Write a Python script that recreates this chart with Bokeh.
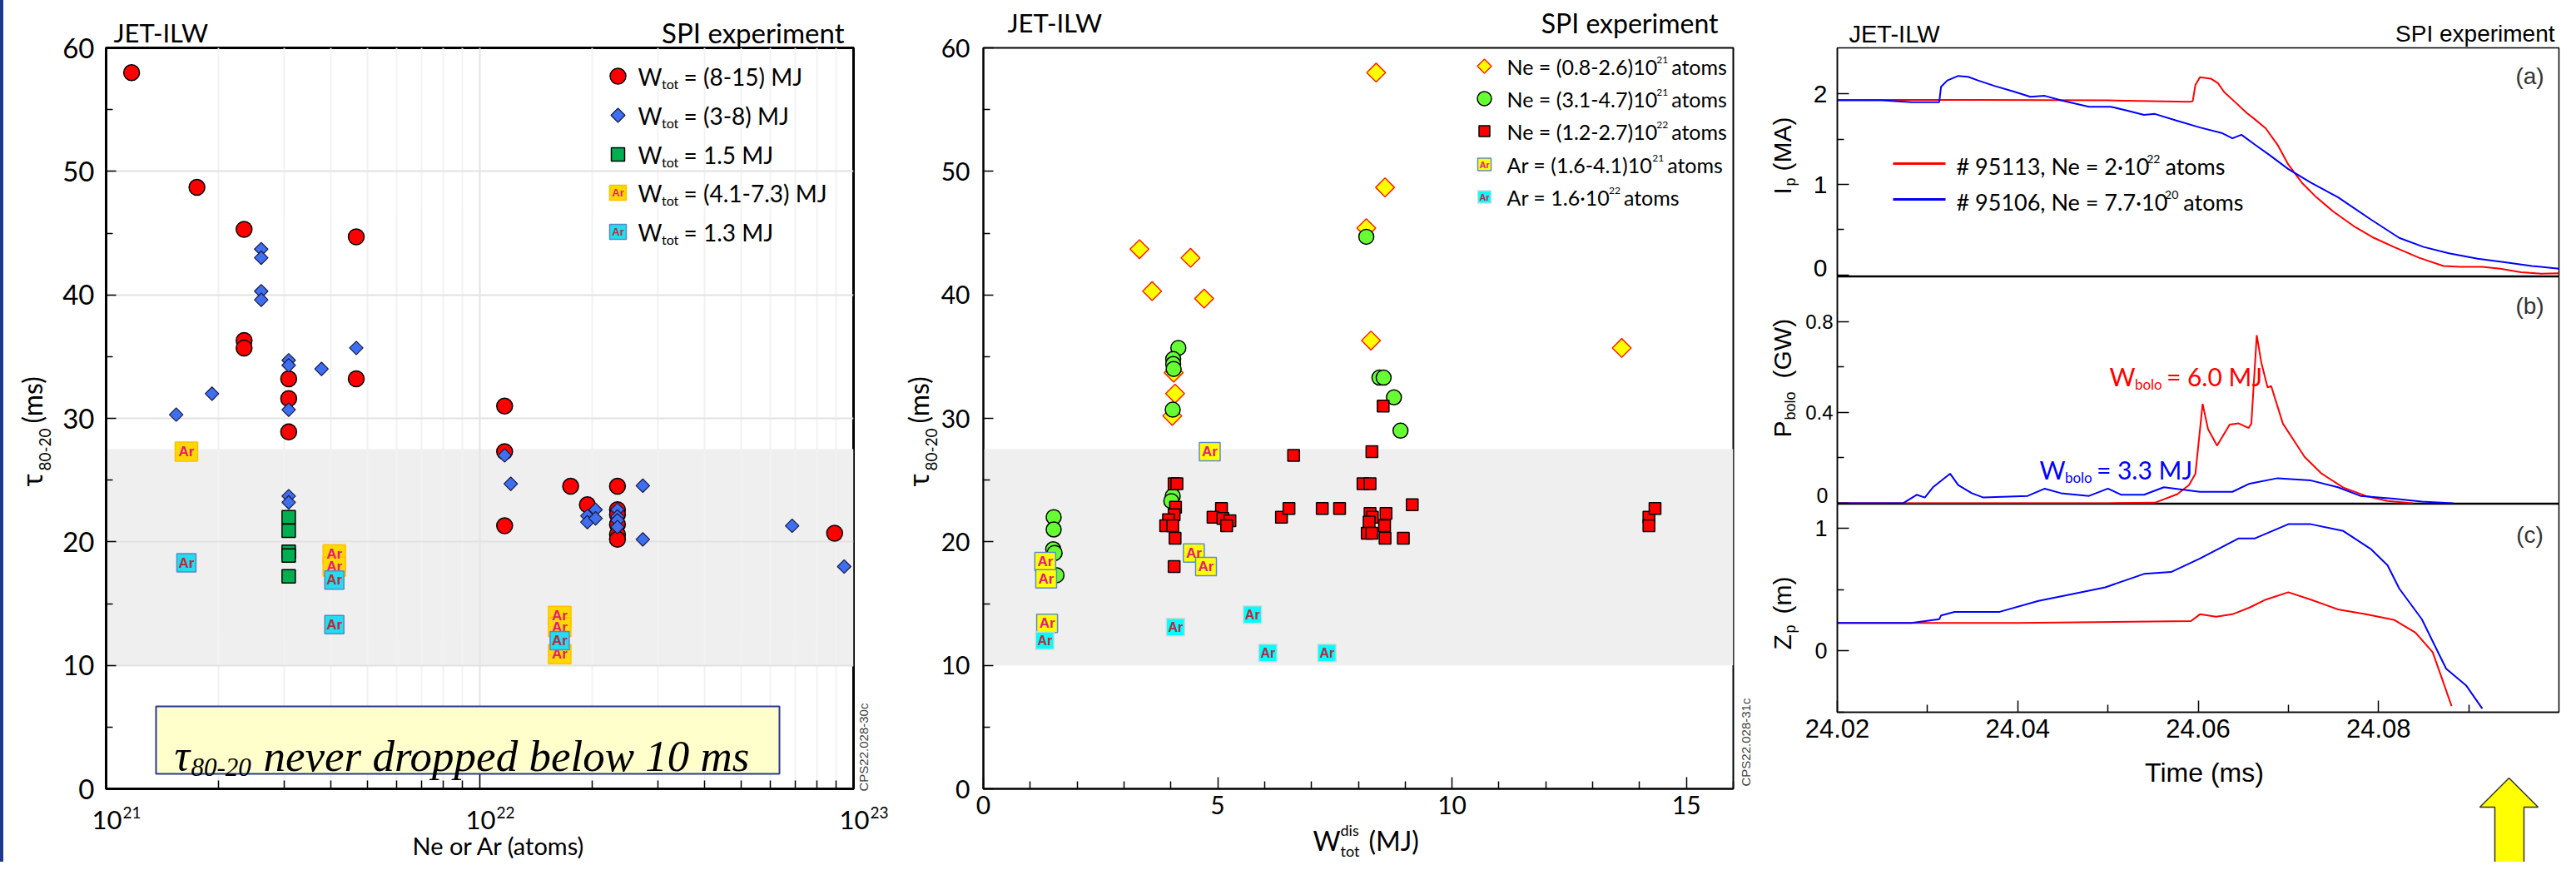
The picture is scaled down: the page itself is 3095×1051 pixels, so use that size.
import math
from bokeh.plotting import figure
from bokeh.models import (Label, BoxAnnotation, FixedTicker, Spacer, Range1d,
                          NumeralTickFormatter, GridBox)
from bokeh.layouts import row, column
from bokeh.embed import file_html
from bokeh.resources import INLINE
from bokeh.core.properties import value

# ======================= DATA =======================
# Panel 1 : tau_80-20 (ms) versus injected Ne or Ar (atoms)
p1_big_x = [1.17e21, 1.75e21, 2.34e21, 2.34e21, 2.34e21, 3.08e21, 3.08e21, 3.08e21,
            4.67e21, 4.67e21, 1.165e22, 1.165e22, 1.165e22, 1.75e22, 1.94e22,
            2.335e22, 2.335e22, 2.335e22, 2.335e22, 2.335e22, 2.335e22, 8.9e22]
p1_big_y = [58.0, 48.7, 45.3, 36.3, 35.7, 33.2, 31.6, 28.9,
            44.7, 33.2, 31.0, 27.3, 21.3, 24.5, 23.0,
            24.5, 22.6, 22.2, 21.4, 20.6, 20.2, 20.7]
p1_mid_x = [1.54e21, 1.92e21, 2.60e21, 2.60e21, 2.60e21, 2.60e21, 3.08e21, 3.08e21, 3.08e21,
            3.08e21, 3.08e21, 3.77e21, 4.67e21, 1.165e22, 1.21e22, 1.94e22, 1.94e22, 2.04e22,
            2.04e22, 2.335e22, 2.335e22, 2.335e22, 2.335e22, 2.73e22, 2.73e22, 6.85e22, 9.44e22]
p1_mid_y = [30.3, 32.0, 43.7, 43.0, 40.3, 39.6, 34.7, 34.3, 30.7,
            23.7, 23.2, 34.0, 35.7, 27.0, 24.7, 22.1, 21.6, 22.6,
            21.9, 22.6, 22.05, 21.75, 21.2, 24.55, 20.2, 21.3, 18.0]
p1_low_x = [3.08e21, 3.08e21, 3.08e21, 3.08e21, 3.08e21]
p1_low_y = [22.0, 20.9, 19.2, 18.9, 17.2]
p1_arhi_x = [1.64e21, 4.08e21, 4.08e21, 1.636e22, 1.636e22, 1.636e22]
p1_arhi_y = [27.3, 19.0, 18.0, 14.0, 13.1, 10.9]
p1_arlo_x = [1.64e21, 4.08e21, 4.08e21, 1.636e22]
p1_arlo_y = [18.3, 16.9, 13.3, 12.0]
p1_xtick_exp = ["21", "22", "23"]
p1_legend = ["= (8-15) MJ", "= (3-8) MJ", "= 1.5 MJ", "= (4.1-7.3) MJ", "= 1.3 MJ"]

# Panel 2 : tau_80-20 (ms) versus W_tot^dis (MJ)
p2_ne1_x = [3.33, 3.60, 4.42, 4.71, 4.06, 4.09, 4.03, 8.17, 8.38, 8.57, 8.27, 13.62]
p2_ne1_y = [43.7, 40.3, 43.0, 39.7, 33.7, 32.0, 30.2, 45.4, 58.0, 48.7, 36.3, 35.7]
p2_ne2_x = [1.50, 1.50, 1.49, 1.52, 1.56, 4.16, 4.05, 4.05, 4.06, 4.04, 4.04, 4.01,
            8.17, 8.45, 8.54, 8.76, 8.90]
p2_ne2_y = [22.0, 21.0, 19.4, 19.1, 17.3, 35.7, 34.8, 34.4, 34.0, 30.7, 23.7, 23.3,
            44.7, 33.3, 33.3, 31.7, 29.0]
p2_ne3_x = [4.07, 4.13, 4.10, 4.07, 3.95, 3.89, 4.04, 4.09, 4.07, 5.08, 4.90, 5.11,
            5.26, 5.19, 6.36, 6.52, 6.62, 7.23, 7.60, 8.53, 8.29, 8.10, 8.25, 9.15,
            8.25, 8.59, 8.30, 8.23, 8.56, 8.19, 8.29, 8.57, 8.96, 14.20, 14.20, 14.33]
p2_ne3_y = [24.7, 24.7, 22.8, 22.2, 21.8, 21.3, 21.3, 20.3, 18.0, 22.7, 22.0, 21.9,
            21.7, 21.3, 22.0, 22.7, 27.0, 22.7, 22.7, 31.0, 27.3, 24.7, 24.7, 23.0,
            22.3, 22.3, 22.0, 21.6, 21.3, 20.7, 20.7, 20.3, 20.3, 22.0, 21.3, 22.7]
p2_arhi_x = [1.32, 1.34, 1.36, 4.49, 4.75, 4.83]
p2_arhi_y = [18.4, 17.0, 13.4, 19.1, 18.0, 27.3]
p2_arlo_x = [1.31, 4.10, 5.74, 6.07, 7.33]
p2_arlo_y = [12.0, 13.1, 14.1, 11.0, 11.0]
p2_legend_main = ["Ne = (0.8-2.6)10", "Ne = (3.1-4.7)10", "Ne = (1.2-2.7)10",
                  "Ar = (1.6-4.1)10", "Ar = 1.6\u00b710"]
p2_legend_exp = ["21", "21", "22", "21", "22"]

# Panel 3 : time traces of pulses 95113 (red) and 95106 (blue)
ip_r_t = [24.020, 24.035, 24.050, 24.059, 24.0594, 24.0597, 24.0602, 24.0614, 24.0622, 24.0629,
          24.0640, 24.0654, 24.0663, 24.0675, 24.0688, 24.0700, 24.0715, 24.0731, 24.0750, 24.0774,
          24.0795, 24.0817, 24.0845, 24.0872, 24.0890, 24.0915, 24.0935, 24.0958, 24.0980, 24.1000]
ip_r_y = [1.935, 1.935, 1.93, 1.915, 1.92, 2.10, 2.185, 2.17, 2.12, 2.02,
          1.92, 1.79, 1.72, 1.62, 1.44, 1.22, 1.02, 0.86, 0.70, 0.53,
          0.41, 0.31, 0.19, 0.10, 0.09, 0.09, 0.07, 0.03, 0.015, 0.02]
ip_b_t = [24.020, 24.025, 24.0282, 24.0313, 24.0315, 24.0322, 24.0334, 24.0345, 24.0356, 24.0374,
          24.0395, 24.0414, 24.0430, 24.0448, 24.0479, 24.0503, 24.0520, 24.0540, 24.0552, 24.0575,
          24.0602, 24.0626, 24.0638, 24.0648, 24.0663, 24.0680, 24.0700, 24.0725, 24.0755, 24.0792,
          24.0823, 24.0850, 24.0878, 24.0910, 24.0940, 24.0970, 24.1000]
ip_b_y = [1.93, 1.93, 1.91, 1.91, 2.08, 2.15, 2.20, 2.19, 2.15, 2.09,
          2.03, 1.97, 1.98, 1.93, 1.86, 1.86, 1.82, 1.77, 1.78, 1.71,
          1.63, 1.57, 1.51, 1.55, 1.44, 1.32, 1.17, 1.02, 0.86, 0.61,
          0.41, 0.31, 0.24, 0.18, 0.14, 0.10, 0.07]
pb_r_t = [24.020, 24.050, 24.0552, 24.0577, 24.0590, 24.0597, 24.0605, 24.0611, 24.0621, 24.0635,
          24.0645, 24.0656, 24.0659, 24.0665, 24.0670, 24.0677, 24.0681, 24.0694, 24.0706, 24.0718,
          24.0737, 24.0761, 24.0786, 24.0810, 24.0838]
pb_r_y = [0.0, 0.0, 0.002, 0.04, 0.08, 0.13, 0.437, 0.326, 0.253, 0.346,
          0.351, 0.331, 0.35, 0.739, 0.62, 0.51, 0.515, 0.35, 0.277, 0.204,
          0.13, 0.069, 0.032, 0.01, 0.0]
pb_b_t = [24.020, 24.0273, 24.0288, 24.0297, 24.0306, 24.0325, 24.0334, 24.0349, 24.0362, 24.0411,
          24.0430, 24.0448, 24.0479, 24.0500, 24.0515, 24.0540, 24.0562, 24.0602, 24.0638, 24.0657,
          24.0688, 24.0725, 24.0755, 24.0780, 24.0817, 24.0848, 24.0883]
pb_b_y = [0.0, 0.0, 0.037, 0.025, 0.07, 0.13, 0.08, 0.044, 0.025, 0.032,
          0.064, 0.044, 0.032, 0.064, 0.037, 0.037, 0.07, 0.05, 0.05, 0.086,
          0.11, 0.10, 0.07, 0.032, 0.02, 0.007, 0.0]
zp_r_t = [24.020, 24.040, 24.0592, 24.0602, 24.0620, 24.0638, 24.0657, 24.0675, 24.0700, 24.0725,
          24.0755, 24.0786, 24.0817, 24.0841, 24.0860, 24.0872, 24.0881]
zp_r_y = [0.23, 0.23, 0.245, 0.30, 0.28, 0.30, 0.355, 0.42, 0.48, 0.42,
          0.34, 0.30, 0.255, 0.15, -0.01, -0.26, -0.45]
zp_b_t = [24.020, 24.0282, 24.0313, 24.0315, 24.0330, 24.0380, 24.0423, 24.0454, 24.0497, 24.0540,
          24.0570, 24.0602, 24.0645, 24.0663, 24.0700, 24.0725, 24.0761, 24.0792, 24.0810, 24.0823,
          24.0848, 24.0860, 24.0875, 24.0897, 24.0915]
zp_b_y = [0.23, 0.23, 0.26, 0.29, 0.32, 0.32, 0.41, 0.455, 0.52, 0.63,
          0.645, 0.755, 0.92, 0.92, 1.036, 1.036, 0.98, 0.83, 0.70, 0.51,
          0.26, 0.08, -0.145, -0.28, -0.47]
p3_xticks = [24.02, 24.04, 24.06, 24.08]
p3_legend_main = ["# 95113, Ne = 2\u00b710", "# 95106, Ne = 7.7\u00b710"]
p3_legend_exp = ["22", "20"]

# ======================= GEOMETRY (page pixels) =======================
F1 = {"x0": 135, "x1": 1033, "y0": 65, "y1": 970}
F2 = {"x0": 1189, "x1": 2090, "y0": 57, "y1": 955}

LATO = {' ': .20, '(': .30, ')': .30, '-': .36, '.': .23, ',': .23, '=': .58, '\u00b7': .26, '#': .58,
        'a': .50, 'e': .53, 'm': .82, 'o': .57, 's': .43, 't': .36, 'n': .56, 'r': .38, 'i': .24,
        'l': .24, 'b': .56, 'd': .56, 'N': .74, 'W': .98, 'M': .90, 'J': .40, 'A': .69}
for _d in "0123456789":
    LATO[_d] = .58

def tw(s, size):
    return size * sum(LATO.get(c, .55) for c in s)

# transparent overlay (page coordinates) that carries all texts and key decorations
ov = figure(width=3079, height=1035, x_range=Range1d(8, 3087), y_range=Range1d(1043, 8),
            output_backend="svg", toolbar_location=None, x_axis_location=None,
            y_axis_location=None, min_border_left=0, min_border_right=0, min_border_top=0,
            min_border_bottom=0)
ov.outline_line_color = None
ov.background_fill_color = None
ov.border_fill_color = None
ov.grid.visible = False

def lab(px, py, text, size, font="Lato", color="black", align="left",
        baseline="middle", angle=0.0, style="normal"):
    ov.add_layout(Label(x=px, y=py, text=text, text_font=font, text_font_size=f"{size}px",
                        text_color=color, text_align=align, text_baseline=baseline,
                        angle=angle, text_font_style=style))

def chain(px, py, pieces, color="black"):
    for s, size, dy, gap in pieces:
        lab(px, py + dy, s, size, "Lato", color)
        px += tw(s, size) + gap

def style_axis(ax, font, size, standoff, lw, tin, tmin):
    ax.major_label_text_font = font
    ax.major_label_text_font_size = f"{size}px"
    ax.major_label_text_color = "black"
    ax.major_label_standoff = standoff
    ax.axis_line_color = "black"
    ax.axis_line_width = lw
    ax.major_tick_line_color = "black"
    ax.minor_tick_line_color = "black"
    ax.major_tick_line_width = 1.5
    ax.minor_tick_line_width = 1.5
    ax.major_tick_out = 0
    ax.minor_tick_out = 0
    ax.major_tick_in = tin
    ax.minor_tick_in = tmin

def ar_boxes(p, xs, ys, w, h, fill, line, tcolor, fsize):
    p.rect(x=xs, y=ys, width=w, height=h, width_units="screen", height_units="screen",
           fill_color=fill, line_color=line, line_width=1.5)
    p.text(x=xs, y=ys, text=["Ar"] * len(xs), text_font=value("Liberation Sans"),
           text_font_style="bold", text_font_size=f"{fsize}px", text_color=tcolor,
           text_align="center", text_baseline="middle")

BAND = "#EFEFEF"
R = math.pi / 2

# ======================= PANEL 1 =======================
p1 = figure(width=1081, height=1035, x_axis_type="log", x_range=(1e21, 1e23), y_range=(0, 60),
            output_backend="svg", toolbar_location=None,
            min_border_left=123, min_border_right=60, min_border_top=57, min_border_bottom=73)
p1.outline_line_color = "black"
p1.outline_line_width = 3
minor_log = [k * 1e21 for k in range(2, 10)] + [k * 1e22 for k in range(2, 10)]
p1.xaxis.ticker = FixedTicker(ticks=[1e21, 1e22, 1e23], minor_ticks=minor_log)
p1.yaxis.ticker = FixedTicker(ticks=[0, 10, 20, 30, 40, 50, 60], minor_ticks=[5, 15, 25, 35, 45, 55])
style_axis(p1.xaxis[0], "Lato", 31, 6, 3, 18, 10)
style_axis(p1.yaxis[0], "Lato", 33, 14, 3, 12, 8)
p1.xaxis.major_label_text_color = None
p1.xgrid.ticker = FixedTicker(ticks=[1e22], minor_ticks=minor_log)
p1.xgrid.grid_line_color = "#E4E4E4"
p1.xgrid.grid_line_width = 2
p1.xgrid.minor_grid_line_color = "#F2F2F2"
p1.xgrid.minor_grid_line_width = 2
p1.ygrid.ticker = FixedTicker(ticks=[10, 20, 30, 40, 50])
p1.ygrid.grid_line_color = "#E2E2E2"
p1.ygrid.grid_line_width = 2
p1.add_layout(BoxAnnotation(bottom=10, top=27.5, fill_color=BAND, fill_alpha=1,
                            line_color=None, level="image"))
p1.scatter(p1_big_x, p1_big_y, marker="circle", size=19, fill_color="#FF0000",
           line_color="black", line_width=1.5)
p1.scatter(p1_mid_x, p1_mid_y, marker="square", angle=math.pi / 4, size=11.5,
           fill_color="#3D6FF0", line_color="#1A1A40", line_width=1.2)
p1.scatter(p1_low_x, p1_low_y, marker="square", size=16, fill_color="#00B050",
           line_color="black", line_width=1.5)
ar_boxes(p1, p1_arhi_x, p1_arhi_y, 27, 23, "#FFD800", "#FFC000", "#E6197E", 17)
ar_boxes(p1, p1_arlo_x, p1_arlo_y, 23, 22, "#22DDEE", "#5B87C5", "#C0263A", 17)

# ======================= PANEL 2 =======================
p2 = figure(width=1022, height=1035, x_range=(0, 16), y_range=(0, 60),
            output_backend="svg", toolbar_location=None,
            min_border_left=96, min_border_right=25, min_border_top=49, min_border_bottom=88)
p2.outline_line_color = "black"
p2.outline_line_width = 2
p2.grid.visible = False
p2.xaxis.ticker = FixedTicker(ticks=[0, 5, 10, 15],
                              minor_ticks=[1, 2, 3, 4, 6, 7, 8, 9, 11, 12, 13, 14, 16])
p2.yaxis.ticker = FixedTicker(ticks=[0, 10, 20, 30, 40, 50, 60], minor_ticks=[5, 15, 25, 35, 45, 55])
style_axis(p2.xaxis[0], "Lato", 30, 8, 2, 14, 9)
style_axis(p2.yaxis[0], "Lato", 30, 16, 2, 12, 8)
p2.add_layout(BoxAnnotation(bottom=10, top=27.5, fill_color=BAND, fill_alpha=1,
                            line_color=None, level="image"))
p2.scatter(p2_ne1_x, p2_ne1_y, marker="square", angle=math.pi / 4, size=16,
           fill_color="#FFFF00", line_color="#FF2000", line_width=1.5)
p2.scatter(p2_ne2_x, p2_ne2_y, marker="circle", size=18, fill_color="#66FF33",
           line_color="black", line_width=1.5)
p2.scatter(p2_ne3_x, p2_ne3_y, marker="square", size=14, fill_color="#FF0000",
           line_color="black", line_width=1.5)
ar_boxes(p2, p2_arhi_x, p2_arhi_y, 25, 22, "#FFFF00", "#5B8BD0", "#E6197E", 17)
ar_boxes(p2, p2_arlo_x, p2_arlo_y, 22, 21, "#00FFFF", "#D8D8D8", "#C0263A", 16)

# ======================= PANEL 3 =======================
xr3 = Range1d(24.02, 24.10)

def p3fig(h, yr, mt, mb, xaxis):
    f = figure(width=972, height=h, x_range=xr3, y_range=yr, output_backend="svg",
               toolbar_location=None, x_axis_location=("below" if xaxis else None),
               min_border_left=100, min_border_right=5, min_border_top=mt, min_border_bottom=mb)
    f.outline_line_color = "black"
    f.outline_line_width = 1.5
    f.grid.visible = False
    return f

fa = p3fig(332, (-0.02, 2.51), 57, 0, False)
fb = p3fig(273, (-0.004, 0.996), 0, 0, False)
fc = p3fig(339, (-0.5, 1.2), 0, 89, True)
fa.yaxis.ticker = FixedTicker(ticks=[0, 1, 2], minor_ticks=[0.5, 1.5])
style_axis(fa.yaxis[0], "Liberation Sans", 30, 12, 1.5, 14, 8)
fa.yaxis.major_label_overrides = {0: ""}
fb.yaxis.ticker = FixedTicker(ticks=[0, 0.4, 0.8], minor_ticks=[0.2, 0.6])
style_axis(fb.yaxis[0], "Liberation Sans", 24, 5, 1.5, 14, 8)
fb.yaxis.major_label_overrides = {0: ""}
fc.yaxis.ticker = FixedTicker(ticks=[0, 1], minor_ticks=[-0.5, 0.5])
style_axis(fc.yaxis[0], "Liberation Sans", 27, 12, 1.5, 14, 8)
fc.xaxis.ticker = FixedTicker(ticks=p3_xticks, minor_ticks=[24.03, 24.05, 24.07, 24.09])
fc.xaxis.formatter = NumeralTickFormatter(format="0.00")
style_axis(fc.xaxis[0], "Liberation Sans", 31, 8, 1.5, 14, 9)
fa.line(ip_r_t, ip_r_y, line_color="#FF0000", line_width=2)
fa.line(ip_b_t, ip_b_y, line_color="#0000FF", line_width=2)
fb.line(pb_r_t, pb_r_y, line_color="#FF0000", line_width=2)
fb.line(pb_b_t, pb_b_y, line_color="#0000FF", line_width=2)
fc.line(zp_r_t, zp_r_y, line_color="#FF0000", line_width=2)
fc.line(zp_b_t, zp_b_y, line_color="#0000FF", line_width=2)

# ======================= OVERLAY: texts, keys, decorations =======================
# panel 1 header, tick labels, axis titles
lab(144, 46, "JET-ILW", 31)
lab(1022, 46, "SPI experiment", 33, align="right")
for e, px in zip(p1_xtick_exp, [F1["x0"], (F1["x0"] + F1["x1"]) / 2, F1["x1"]]):
    lab(px + 1, 992, "10", 31, align="center")
    lab(px + 20, 983, e, 19)
lab(607, 1023, "Ne or Ar (atoms)", 29, align="center")
lab(46, 592, "\u03c4", 32, font="Noto Sans", angle=R)
lab(61, 573, "80-20", 19, angle=R)
lab(46, 516, "(ms)", 32, angle=R)
lab(1045, 958, "CPS22.028-30c", 15, font="Liberation Sans", color="#444444", angle=R)

# panel 1 key
rows1 = [99, 146, 193, 239, 286]
ov.scatter([750], [rows1[0]], marker="circle", size=19, fill_color="#FF0000",
           line_color="black", line_width=1.5)
ov.scatter([750], [rows1[1]], marker="square", angle=math.pi / 4, size=12,
           fill_color="#3D6FF0", line_color="#1A1A40", line_width=1.2)
ov.scatter([750], [rows1[2]], marker="square", size=16, fill_color="#00B050",
           line_color="black", line_width=1.5)
ar_boxes(ov, [750], [rows1[3]], 20, 18, "#FFD800", "#FFC000", "#E6197E", 13)
ar_boxes(ov, [750], [rows1[4]], 20, 18, "#22DDEE", "#5B87C5", "#C0263A", 13)
for yy, t in zip(rows1, p1_legend):
    chain(774, yy, [("W", 28, 0, 1), ("tot", 16, 9, 6), (t, 28, 0, 0)])

# panel 1 note box
ov.quad(left=[195], right=[944], top=[856], bottom=[937], fill_color="#FFFFCC",
        line_color="#2B3990", line_width=2)
lab(217, 915, "\u03c4", 52, font="Liberation Serif", baseline="alphabetic", style="italic")
lab(237, 929, "80-20", 31, font="Liberation Serif", baseline="alphabetic", style="italic")
lab(324, 915, "never dropped below 10 ms", 53, font="Liberation Serif",
    baseline="alphabetic", style="italic")

# panel 2 header, axis titles, key
lab(1218, 34, "JET-ILW", 31)
lab(2072, 35, "SPI experiment", 32, align="right")
lab(1111, 592, "\u03c4", 32, font="Noto Sans", angle=R)
lab(1126, 573, "80-20", 19, angle=R)
lab(1111, 516, "(ms)", 32, angle=R)
lab(1585, 1017, "W", 32)
lab(1618, 1029, "tot", 18)
lab(1618, 1004, "dis", 18)
lab(1652, 1017, "(MJ)", 32)
lab(2105, 952, "CPS22.028-31c", 15, font="Liberation Sans", color="#444444", angle=R)
rows2 = [87, 126, 165, 205, 244]
ov.scatter([1791], [rows2[0]], marker="square", angle=math.pi / 4, size=12,
           fill_color="#FFFF00", line_color="#FF2000", line_width=1.5)
ov.scatter([1791], [rows2[1]], marker="circle", size=17, fill_color="#66FF33",
           line_color="black", line_width=1.5)
ov.scatter([1791], [rows2[2]], marker="square", size=13, fill_color="#FF0000",
           line_color="black", line_width=1.5)
ar_boxes(ov, [1791], [rows2[3]], 16, 15, "#FFFF00", "#5B8BD0", "#E6197E", 11)
ar_boxes(ov, [1791], [rows2[4]], 16, 15, "#00FFFF", "#D8D8D8", "#C0263A", 11)
for yy, m, e in zip(rows2, p2_legend_main, p2_legend_exp):
    chain(1818, yy, [(m, 25, 0, 1), (e, 12, -8, 4), ("atoms", 25, 0, 0)])

# panel 3 header, key, labels, axis titles
lab(2229, 48, "JET-ILW", 29, font="Liberation Sans")
lab(3077, 48, "SPI experiment", 28, font="Liberation Sans", align="right")
lab(3047, 99, "(a)", 28, font="Liberation Sans", color="#333333", align="center")
lab(3047, 375, "(b)", 28, font="Liberation Sans", color="#333333", align="center")
lab(3047, 650, "(c)", 28, font="Liberation Sans", color="#333333", align="center")
lab(2203, 329, "0", 30, font="Liberation Sans", align="right")
lab(2204, 602, "0", 25, font="Liberation Sans", align="right")
for yy, col, m, e in zip([204, 247], ["#FF0000", "#0000FF"], p3_legend_main, p3_legend_exp):
    ov.line([2282, 2345], [yy, yy], line_color=col, line_width=3)
    chain(2358, yy + 3, [(m, 27, 0, 3), (e, 14, -9, 6), ("atoms", 27, 0, 0)])
chain(2542, 459, [("W", 30, 0, 1), ("bolo", 17, 10, 5), ("= 6.0 MJ", 30, 0, 0)], color="#FF0000")
chain(2458, 571, [("W", 30, 0, 1), ("bolo", 17, 10, 5), ("= 3.3 MJ", 30, 0, 0)], color="#0000FF")
lab(2149, 241, "I", 30, font="Liberation Sans", angle=R)
lab(2158, 231, "p", 18, font="Liberation Sans", angle=R)
lab(2149, 213, "(MA)", 30, font="Liberation Sans", angle=R)
lab(2149, 533, "P", 30, font="Liberation Sans", angle=R)
lab(2158, 512, "bolo", 18, font="Liberation Sans", angle=R)
lab(2149, 462, "(GW)", 30, font="Liberation Sans", angle=R)
lab(2149, 788, "Z", 30, font="Liberation Sans", angle=R)
lab(2158, 768, "p", 18, font="Liberation Sans", angle=R)
lab(2149, 745, "(m)", 30, font="Liberation Sans", angle=R)
lab(2656, 935, "Time (ms)", 32, font="Liberation Sans", align="center")

# yellow arrow below panel 3
ov.patch([3022, 3057, 3040, 3040, 3005, 3005, 2987], [942, 977, 977, 1046, 1046, 977, 977],
         fill_color="#FFFF00", line_color="#333333", line_width=1.5)

strip = Spacer(width=4, height=1035, styles={"background-color": "#1B3A8C"})
main = row(strip, p1, p2, column(fa, fb, fc))
layout = GridBox(children=[(main, 0, 0), (ov, 0, 0)])

open("out.html", "w").write(file_html(layout, INLINE))
